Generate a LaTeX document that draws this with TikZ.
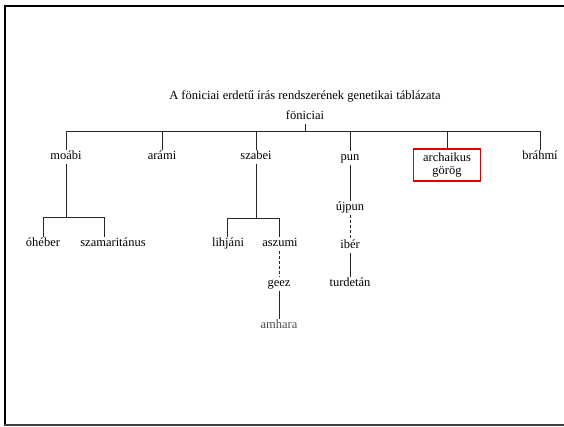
\documentclass[tikz,border=0pt]{standalone}
\usepackage{fontspec}
\setmainfont{Liberation Serif}
\begin{document}
\begin{tikzpicture}[x=1pt,y=-1pt,
  lbl/.style={font=\fontsize{12.5}{14}\selectfont, text height=8pt, text depth=2.5pt, inner sep=1.5pt},
  conn/.style={draw=black!85, line width=1pt},
  dconn/.style={conn, densely dashed},
  redbox/.style={draw=red!90!black, line width=1.3pt, minimum width=67pt, minimum height=32pt, align=center, inner sep=1pt, font=\fontsize{12.5}{13}\selectfont}]
\useasboundingbox (0,0) rectangle (564,426);
% frame
\draw[line width=2pt, black] (565,6) -- (5,6) -- (5,425);
\draw[line width=2pt, black!75] (4,425) -- (565,425);
% title
\node[lbl] (title) at (305,97) {A föniciai erdetű írás rendszerének genetikai táblázata};
\node[lbl] (fon) at (305,117) {föniciai};
% level 1
\node[lbl] (moabi) at (66,157) {moábi};
\node[lbl] (arami) at (162,157) {arámi};
\node[lbl] (szabei) at (256,157) {szabei};
\node[lbl] (pun) at (350,158) {pun};
\node[redbox] (arch) at (447,165) {archaikus\\[-0.5pt]görög};
\node[lbl] (brahmi) at (540,157) {bráhmí};
% level 2
\node[lbl] (ohe) at (43,244) {óhéber};
\node[lbl] (szam) at (113,244) {szamaritánus};
\node[lbl] (lih) at (228,244) {lihjáni};
\node[lbl] (asz) at (280,244) {aszumi};
\node[lbl] (ujpun) at (350,208) {újpun};
\node[lbl] (iber) at (350,246) {ibér};
\node[lbl] (turd) at (350,284) {turdetán};
\node[lbl] (geez) at (279,284) {geez};
\node[lbl, text=black!70] (amh) at (279,326) {amhara};
% bus coordinates
\coordinate (bus) at (305,131);
\coordinate (mb1) at (43,217);
\coordinate (mb2) at (104,217);
\coordinate (sb1) at (227,218);
\coordinate (sb2) at (279,218);
% main tree
\draw[conn] (fon.south) -- (bus);
\draw[conn] (moabi.north) -- (moabi.north |- bus) -- (brahmi.north |- bus) -- (brahmi.north);
\draw[conn] (arami.north) -- (arami.north |- bus);
\draw[conn] (szabei.north) -- (szabei.north |- bus);
\draw[conn] (pun.north) -- (pun.north |- bus);
\draw[conn] (arch.north) -- (arch.north |- bus);
% moabi subtree
\draw[conn] (moabi.south) -- (moabi.south |- mb1);
\draw[conn] (mb1 |- ohe.north) -- (mb1) -- (mb2) -- (mb2 |- szam.north);
% szabei subtree
\draw[conn] (szabei.south) -- (szabei.south |- sb1);
\draw[conn] (sb1 |- lih.north) -- (sb1) -- (sb2) -- (sb2 |- asz.north);
\draw[dconn] (sb2 |- asz.south) -- (sb2 |- geez.north);
\draw[conn] (geez.south) -- (amh.north);
% pun subtree
\draw[conn] (pun.south) -- (ujpun.north);
\draw[dconn] (ujpun.south) -- (iber.north);
\draw[conn] (iber.south) -- (turd.north);
\end{tikzpicture}
\end{document}
